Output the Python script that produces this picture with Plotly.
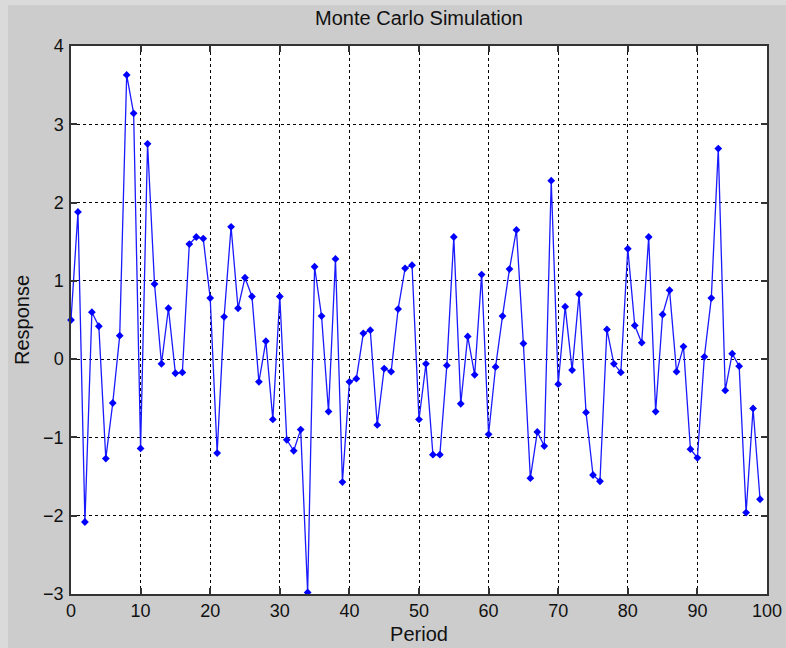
import plotly.graph_objects as go

period = list(range(100))
response = [
    0.50, 1.88, -2.08, 0.60, 0.42, -1.27, -0.56, 0.30, 3.63, 3.14,
    -1.14, 2.75, 0.96, -0.06, 0.65, -0.18, -0.17, 1.47, 1.56, 1.54,
    0.78, -1.20, 0.54, 1.69, 0.65, 1.04, 0.80, -0.29, 0.23, -0.77,
    0.80, -1.03, -1.17, -0.90, -2.98, 1.18, 0.55, -0.67, 1.28, -1.57,
    -0.29, -0.25, 0.33, 0.37, -0.84, -0.12, -0.16, 0.64, 1.16, 1.20,
    -0.77, -0.06, -1.22, -1.22, -0.08, 1.56, -0.57, 0.29, -0.20, 1.08,
    -0.96, -0.10, 0.55, 1.15, 1.65, 0.20, -1.52, -0.93, -1.11, 2.28,
    -0.32, 0.67, -0.14, 0.83, -0.68, -1.48, -1.56, 0.38, -0.06, -0.17,
    1.41, 0.43, 0.21, 1.56, -0.67, 0.57, 0.88, -0.16, 0.16, -1.15,
    -1.26, 0.03, 0.78, 2.69, -0.40, 0.07, -0.09, -1.96, -0.63, -1.79,
]

x_ticks = [0, 10, 20, 30, 40, 50, 60, 70, 80, 90, 100]
y_ticks = [-3, -2, -1, 0, 1, 2, 3, 4]

W, H = 786, 648
ML, MR, MT, MB = 71, 19, 46, 54
PW, PH = W - ML - MR, H - MT - MB

fig = go.Figure()
fig.add_trace(go.Scatter(
    x=period, y=response, mode="lines+markers",
    line=dict(color="#1a1aff", width=1.3),
    marker=dict(symbol="diamond", size=6, color="#0000ff"),
    cliponaxis=False,
))

fam = "Liberation Sans, Arial, Helvetica, sans-serif"
tick_font = dict(family=fam, size=18, color="#111111")
label_font = dict(family=fam, size=20, color="#111111")

axis_common = dict(
    showline=True, linecolor="#333333", linewidth=1.5, mirror="ticks",
    ticks="inside", ticklen=6, tickcolor="#333333", tickwidth=1.5,
    showgrid=True, gridcolor="black", griddash="dot", gridwidth=1,
    zeroline=False, tickfont=tick_font, automargin=False,
)

fig.update_layout(
    width=W, height=H,
    paper_bgcolor="#cccccc", plot_bgcolor="white",
    margin=dict(l=ML, r=MR, t=MT, b=MB),
    showlegend=False,
    title=dict(text="Monte Carlo Simulation", x=(ML + PW / 2) / W, xanchor="center",
               y=1 - 18 / H, yanchor="middle", font=label_font),
    xaxis=dict(range=[0, 100], tickvals=x_ticks,
               title=dict(text="Period", font=label_font, standoff=7), **axis_common),
    yaxis=dict(range=[-3, 4], tickvals=y_ticks, ticklabelstandoff=2,
               title=dict(text="Response", font=label_font, standoff=8), **axis_common),
    shapes=[
        dict(type="rect", xref="paper", yref="paper", layer="below",
             x0=-ML / PW, x1=(8 - ML) / PW, y0=-MB / PH, y1=1 + MT / PH,
             fillcolor="#dadada", line=dict(width=0)),
        dict(type="rect", xref="paper", yref="paper", layer="below",
             x0=-ML / PW, x1=1 + MR / PW, y0=1 + (MT - 5) / PH, y1=1 + MT / PH,
             fillcolor="#dadada", line=dict(width=0)),
    ],
)

fig.write_html("out.html", config={"displayModeBar": False},
               post_script="document.body.style.margin='0';")
